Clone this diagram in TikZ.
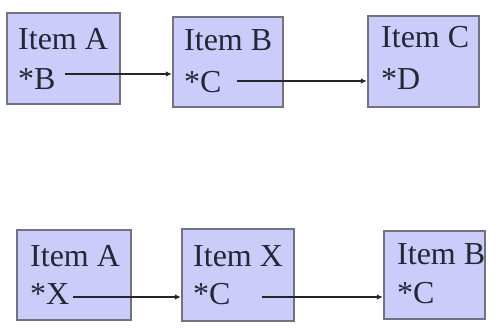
\documentclass[tikz,border=0pt]{standalone}
\usepackage{fontspec}
\setmainfont{Liberation Serif}
\usetikzlibrary{arrows.meta}
\definecolor{boxfill}{HTML}{CCCCFA}
\definecolor{boxline}{HTML}{727282}
\definecolor{txt}{HTML}{262636}
\begin{document}
\begin{tikzpicture}[x=1pt,y=-1pt,
  itembox/.style={draw=boxline,line width=2.2pt,fill=boxfill},
  lbl/.style={anchor=base west,inner sep=0pt,text=txt,font=\fontsize{32}{36}\selectfont},
  conn/.style={draw=black!85,line width=1.4pt,-{Latex[length=6pt,width=5.5pt]}}]
\useasboundingbox (0,0) rectangle (499,328);
% top row
\node[itembox,minimum width=113pt,minimum height=91pt] (ta) at (63.5,58.5) {};
\node[itembox,minimum width=110pt,minimum height=90pt] (tb) at (228,62) {};
\node[itembox,minimum width=111pt,minimum height=91pt] (tc) at (423.5,61.5) {};
\node[lbl] (ta1) at (18,50) {Item A};
\node[lbl] (ta2) at (18,90) {*B};
\node[lbl] (tb1) at (184,51) {Item B};
\node[lbl] (tb2) at (184,93) {*C};
\node[lbl] (tc1) at (381,48) {Item C};
\node[lbl] (tc2) at (381,90) {*D};
\coordinate (s1) at (65,74);
\coordinate (s2) at (237,81);
\draw[conn] (s1) -- (s1 -| tb.west);
\draw[conn] (s2) -- (s2 -| tc.west);
% bottom row
\node[itembox,minimum width=114pt,minimum height=90pt] (ba) at (74,275) {};
\node[itembox,minimum width=112pt,minimum height=92pt] (bx) at (238,275) {};
\node[itembox,minimum width=101pt,minimum height=88pt] (bb) at (434.5,275) {};
\node[lbl] (ba1) at (30,267) {Item A};
\node[lbl] (ba2) at (30,305) {*X};
\node[lbl] (bx1) at (193,267) {Item X};
\node[lbl] (bx2) at (193,305) {*C};
\node[lbl] (bb1) at (397,265) {Item B};
\node[lbl] (bb2) at (397,304) {*C};
\coordinate (s3) at (73,297);
\coordinate (s4) at (262,297);
\draw[conn] (s3) -- (s3 -| bx.west);
\draw[conn] (s4) -- (s4 -| bb.west);
\end{tikzpicture}
\end{document}
